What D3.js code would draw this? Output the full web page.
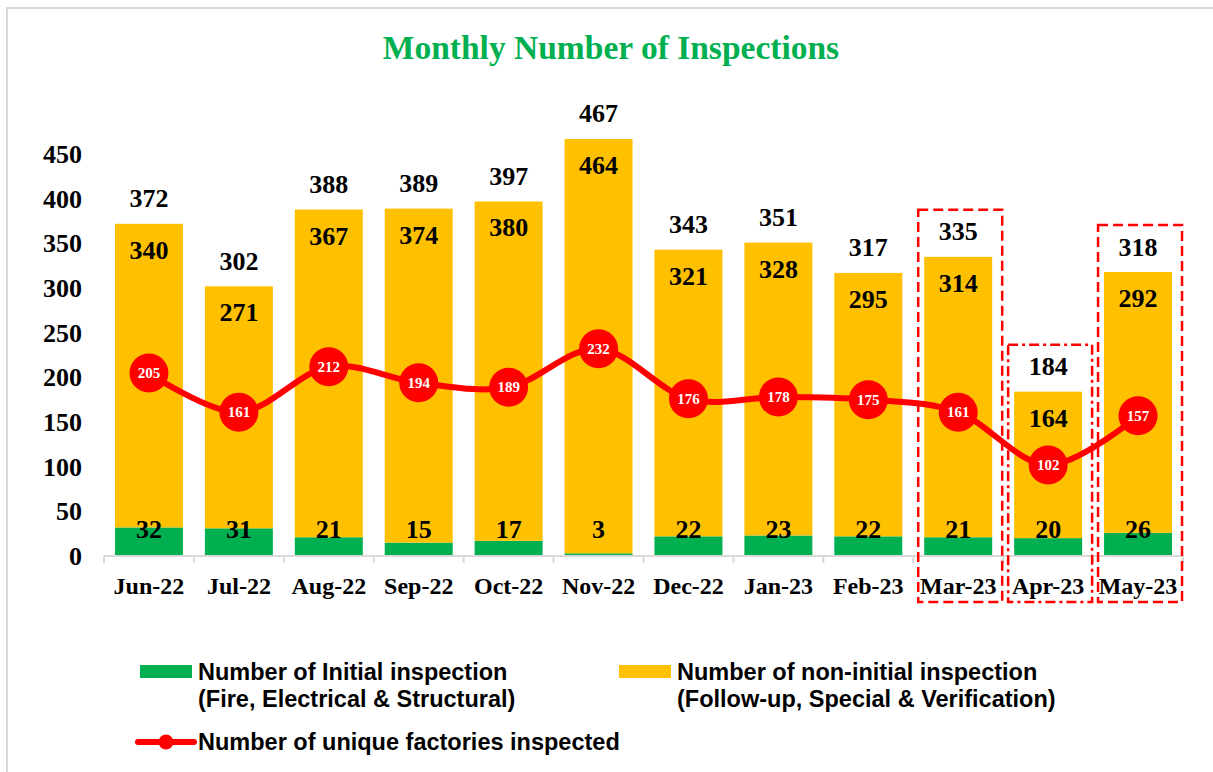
<!DOCTYPE html>
<html>
<head>
<meta charset="utf-8">
<script src="https://cdn.jsdelivr.net/npm/d3@7"></script>
<style>
  html, body { margin: 0; padding: 0; background: #fff; }
  svg { display: block; }
  .num { font-family: "Liberation Serif", "Times New Roman", serif; font-weight: bold; }
  .leg { font-family: "Liberation Sans", Arial, sans-serif; font-weight: bold; }
</style>
</head>
<body>
<svg id="chart" width="1213" height="772"></svg>
<script>
// data
const months = ["Jun-22", "Jul-22", "Aug-22", "Sep-22", "Oct-22", "Nov-22",
                "Dec-22", "Jan-23", "Feb-23", "Mar-23", "Apr-23", "May-23"];
const initial = [32, 31, 21, 15, 17, 3, 22, 23, 22, 21, 20, 26];
const nonInitial = [340, 271, 367, 374, 380, 464, 321, 328, 295, 314, 164, 292];
const totals = [372, 302, 388, 389, 397, 467, 343, 351, 317, 335, 184, 318];
const factories = [205, 161, 212, 194, 189, 232, 176, 178, 175, 161, 102, 157];
const yTicks = [0, 50, 100, 150, 200, 250, 300, 350, 400, 450];
const highlighted = ["Mar-23", "Apr-23", "May-23"];

const GREEN = "#00b050", ORANGE = "#ffc000", RED = "#ff0000", GRID = "#d9d9d9";

let svg = d3.select("#chart");

// outer chart border
svg.append("rect")
    .attr("x", 7).attr("y", 8)
    .attr("width", 1220).attr("height", 780)
    .attr("fill", "none")
    .attr("stroke", GRID)
    .attr("stroke-width", 2);

svg.append("text")
    .attr("class", "num")
    .attr("x", 611).attr("y", 59)
    .attr("text-anchor", "middle")
    .attr("fill", GREEN)
    .style("font-size", "33.5px")
    .text("Monthly Number of Inspections");

let x = d3.scaleBand()
    .domain(months)
    .range([104, 1183])
    .paddingInner(0.244)
    .paddingOuter(0.122);

let y = d3.scaleLinear()
    .domain([0, 500])
    .range([556, 109.5]);

let rows = months.map((m, i) => ({
    month: m,
    initial: initial[i],
    nonInitial: nonInitial[i],
    total: totals[i],
    factories: factories[i]
}));

// y axis labels only
let yAxis = svg.append("g")
    .attr("transform", "translate(82,0)")
    .call(d3.axisLeft(y).tickValues(yTicks).tickSize(0).tickPadding(0));
yAxis.select(".domain").remove();
yAxis.selectAll("text")
    .attr("class", "num")
    .attr("fill", "#000")
    .style("font-size", "26px");

// stacked bars
let bars = svg.append("g");
bars.selectAll("rect.init")
    .data(rows)
    .enter()
    .append("rect")
    .attr("class", "init")
    .attr("x", d => x(d.month))
    .attr("width", x.bandwidth())
    .attr("y", d => y(d.initial))
    .attr("height", d => y(0) - y(d.initial))
    .attr("fill", GREEN);

bars.selectAll("rect.non")
    .data(rows)
    .enter()
    .append("rect")
    .attr("class", "non")
    .attr("x", d => x(d.month))
    .attr("width", x.bandwidth())
    .attr("y", d => y(d.initial + d.nonInitial))
    .attr("height", d => y(d.initial) - y(d.initial + d.nonInitial))
    .attr("fill", ORANGE);

// x axis line and boundary ticks
let axisG = svg.append("g");
axisG.append("line")
    .attr("x1", x.range()[0]).attr("x2", x.range()[1])
    .attr("y1", y(0)).attr("y2", y(0))
    .attr("stroke", GRID).attr("stroke-width", 2);

let bounds = months.map(m => x(m) - x.step() * x.paddingInner() / 2);
bounds[0] = x.range()[0];
bounds.push(x.range()[1]);
axisG.selectAll("line.tick")
    .data(bounds)
    .enter()
    .append("line")
    .attr("class", "tick")
    .attr("x1", d => d).attr("x2", d => d)
    .attr("y1", y(0)).attr("y2", y(0) + 7)
    .attr("stroke", GRID).attr("stroke-width", 2);

let xAxis = svg.append("g")
    .attr("transform", `translate(0,${y(0)})`)
    .call(d3.axisBottom(x).tickSize(0).tickPadding(0));
xAxis.select(".domain").remove();
xAxis.selectAll("text")
    .attr("class", "num")
    .attr("fill", "#000")
    .attr("dy", null)
    .attr("y", 38)
    .style("font-size", "24px");

// bar labels
let labels = svg.append("g").attr("class", "num").style("font-size", "26px");
labels.selectAll("text.total")
    .data(rows)
    .enter()
    .append("text")
    .attr("x", d => x(d.month) + x.bandwidth() / 2)
    .attr("y", d => y(d.total) - 16.5)
    .attr("text-anchor", "middle")
    .text(d => d.total);

labels.selectAll("text.non")
    .data(rows)
    .enter()
    .append("text")
    .attr("x", d => x(d.month) + x.bandwidth() / 2)
    .attr("y", d => y(d.initial + d.nonInitial) + 35)
    .attr("text-anchor", "middle")
    .text(d => d.nonInitial);

labels.selectAll("text.init")
    .data(rows)
    .enter()
    .append("text")
    .attr("x", d => x(d.month) + x.bandwidth() / 2)
    .attr("y", y(0) - 18)
    .attr("text-anchor", "middle")
    .text(d => d.initial);

// factories line
let cx = d => x(d.month) + x.bandwidth() / 2;
let line = d3.line()
    .x(cx)
    .y(d => y(d.factories))
    .curve(d3.curveCardinal.tension(0));

svg.append("path")
    .datum(rows)
    .attr("d", line)
    .attr("fill", "none")
    .attr("stroke", RED)
    .attr("stroke-width", 6);

let dots = svg.append("g");
dots.selectAll("circle")
    .data(rows)
    .enter()
    .append("circle")
    .attr("cx", cx)
    .attr("cy", d => y(d.factories))
    .attr("r", 19.5)
    .attr("fill", RED);

dots.selectAll("text")
    .data(rows)
    .enter()
    .append("text")
    .attr("class", "num")
    .attr("x", cx)
    .attr("y", d => y(d.factories))
    .attr("dy", "0.35em")
    .attr("text-anchor", "middle")
    .attr("fill", "#fff")
    .style("font-size", "15px")
    .text(d => d.factories);

// highlight boxes round the last three months
let boxes = svg.append("g");
boxes.selectAll("rect")
    .data(highlighted)
    .enter()
    .append("rect")
    .attr("x", m => x(m) - 6)
    .attr("width", x.bandwidth() + 16)
    .attr("y", m => y(totals[months.indexOf(m)]) - 47)
    .attr("height", m => 602 - (y(totals[months.indexOf(m)]) - 47))
    .attr("fill", "none")
    .attr("stroke", RED)
    .attr("stroke-width", 2.5)
    .attr("stroke-dasharray", m => m === "Apr-23" ? "10 4 3 4" : "10 5");

// legend
let legend = svg.append("g").attr("class", "leg").style("font-size", "23.5px");
let legendItems = [
    { color: GREEN, x: 140, lines: ["Number of Initial inspection", "(Fire, Electrical & Structural)"] },
    { color: ORANGE, x: 619, lines: ["Number of non-initial inspection", "(Follow-up, Special & Verification)"] }
];
legendItems.forEach(item => {
    legend.append("rect")
        .attr("x", item.x).attr("y", 665)
        .attr("width", 52).attr("height", 13)
        .attr("fill", item.color);
    let t = legend.append("text").attr("x", item.x + 58).attr("y", 680);
    item.lines.forEach((l, i) => {
        t.append("tspan")
            .attr("x", item.x + 58)
            .attr("dy", i === 0 ? 0 : 27)
            .text(l);
    });
});
legend.append("line")
    .attr("x1", 138).attr("x2", 194)
    .attr("y1", 742).attr("y2", 742)
    .attr("stroke", RED).attr("stroke-width", 6)
    .attr("stroke-linecap", "round");
legend.append("circle")
    .attr("cx", 166).attr("cy", 742).attr("r", 7.5)
    .attr("fill", RED);
legend.append("text")
    .attr("x", 198).attr("y", 750)
    .text("Number of unique factories inspected");
</script>
</body>
</html>
